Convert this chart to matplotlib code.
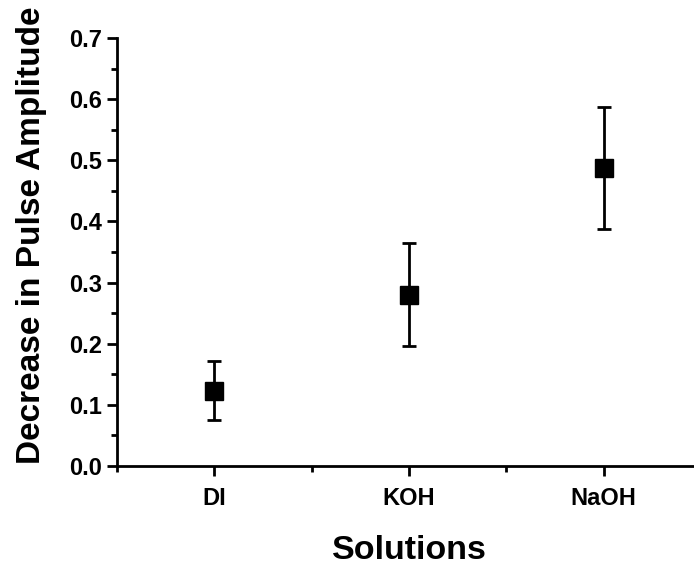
import matplotlib
matplotlib.use("Agg")
import matplotlib.pyplot as plt
from matplotlib.ticker import MultipleLocator, FormatStrFormatter

categories = ["DI", "KOH", "NaOH"]
values = [0.123, 0.280, 0.487]
errors = [0.048, 0.084, 0.100]

plt.rcParams['font.family'] = ['Liberation Sans', 'DejaVu Sans']
plt.rcParams['font.weight'] = 'bold'

fig = plt.figure(figsize=(6.94, 5.67), dpi=100)
ax = fig.add_axes([117/694, 101/567, (701-117)/694, (466-38)/567])

x = list(range(1, len(categories) + 1))
ax.errorbar(x, values, yerr=errors, fmt='s', color='black', ecolor='black',
            markersize=13.5, elinewidth=2, capsize=5, capthick=2)

ax.set_xlim(0.5, 3.5)
ax.set_ylim(0, 0.7)
ax.set_xticks(x)
ax.set_xticklabels(categories)
ax.xaxis.set_minor_locator(MultipleLocator(0.5))
ax.yaxis.set_major_locator(MultipleLocator(0.1))
ax.yaxis.set_minor_locator(MultipleLocator(0.05))
ax.yaxis.set_major_formatter(FormatStrFormatter('%.1f'))

for s in ['top', 'right']:
    ax.spines[s].set_visible(False)
for s in ['left', 'bottom']:
    ax.spines[s].set_linewidth(2)

ax.tick_params(which='major', direction='out', length=7, width=2, labelsize=17)
ax.tick_params(axis='x', which='major', pad=8)
ax.tick_params(axis='y', which='major', pad=4)
ax.tick_params(which='minor', direction='out', length=4, width=2)
for lab in ax.get_xticklabels() + ax.get_yticklabels():
    lab.set_fontweight('bold')

ax.set_xlabel("Solutions", fontsize=24.5, fontweight='bold', labelpad=18)
ax.set_ylabel("Decrease in Pulse Amplitude", fontsize=24, fontweight='bold')
ax.yaxis.set_label_coords(-0.12, 0.54)

fig.savefig("out.png", dpi=100)
